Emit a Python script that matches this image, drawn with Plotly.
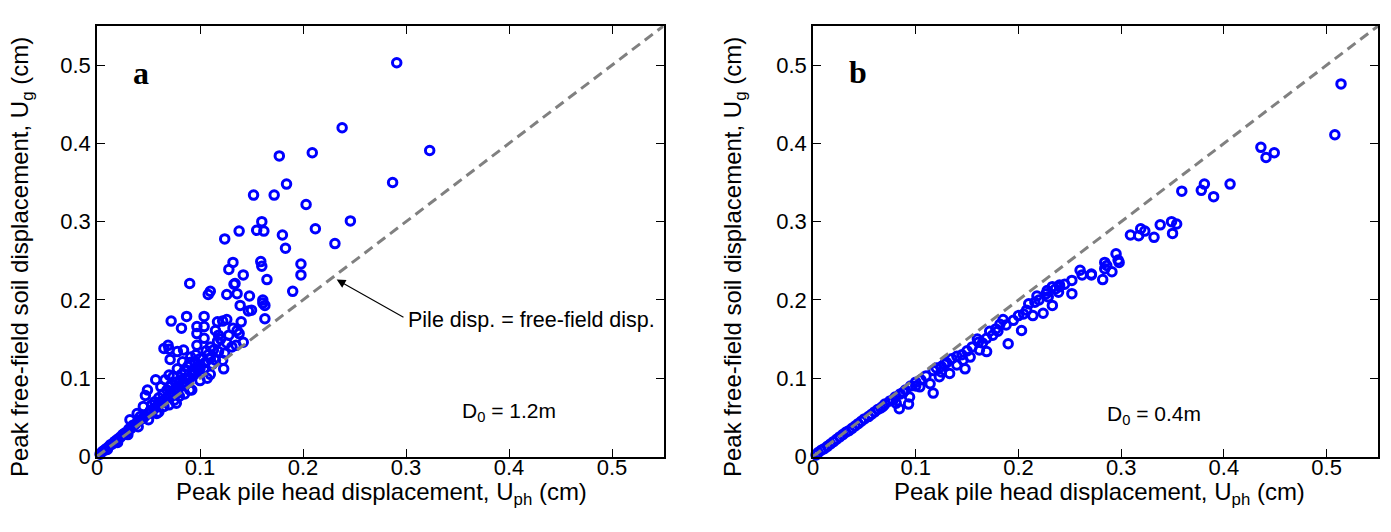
import plotly.graph_objects as go

# ---------------- data ----------------
# Panel a (D0 = 1.2 m): peak pile head displacement vs peak free-field displacement (cm)
a_uph = [0.291, 0.238, 0.323, 0.177, 0.209, 0.184, 0.152, 0.172, 0.287, 0.203,
         0.160, 0.155, 0.162, 0.138, 0.124, 0.180, 0.183, 0.212, 0.246, 0.231,
         0.198, 0.198, 0.190, 0.159, 0.160, 0.132, 0.128, 0.142, 0.165, 0.090,
         0.134, 0.110, 0.108, 0.126, 0.148, 0.161, 0.136, 0.133, 0.139, 0.161,
         0.163, 0.147, 0.150, 0.163, 0.072, 0.087, 0.082, 0.104, 0.097, 0.104,
         0.117, 0.122, 0.126, 0.115, 0.140, 0.132, 0.136, 0.138, 0.097, 0.104,
         0.117, 0.131, 0.135, 0.142, 0.065, 0.069, 0.070, 0.071, 0.078, 0.084,
         0.097, 0.113, 0.118, 0.115, 0.122, 0.123, 0.107, 0.091, 0.095, 0.100,
         0.088, 0.094, 0.104, 0.083, 0.078, 0.057, 0.049, 0.047, 0.070, 0.074,
         0.066, 0.062, 0.071, 0.081, 0.087, 0.092, 0.078, 0.077, 0.045, 0.039,
         0.032, 0.042, 0.052, 0.058, 0.065, 0.090, 0.085, 0.075, 0.110, 0.100,
         0.080, 0.070, 0.060, 0.050, 0.040, 0.030, 0.020, 0.010,
         0.003, 0.005, 0.007, 0.009, 0.011, 0.013, 0.015, 0.017, 0.019, 0.021,
         0.023, 0.025, 0.027, 0.029, 0.031, 0.033, 0.035, 0.037, 0.040, 0.042,
         0.045, 0.047, 0.050, 0.052, 0.055, 0.057, 0.060, 0.062, 0.065, 0.068,
         0.070, 0.073, 0.075, 0.078, 0.080, 0.083, 0.085, 0.088, 0.090, 0.093,
         0.095, 0.098, 0.100,
         0.105, 0.110, 0.112, 0.108, 0.100, 0.096, 0.090, 0.085, 0.082, 0.086,
         0.076, 0.072, 0.068, 0.064, 0.060, 0.056, 0.053, 0.120, 0.128, 0.126,
         0.118, 0.110, 0.106, 0.124]
a_ug = [0.503, 0.420, 0.391, 0.384, 0.388, 0.348, 0.334, 0.334, 0.350, 0.322,
        0.300, 0.289, 0.288, 0.288, 0.278, 0.283, 0.266, 0.291, 0.301, 0.272,
        0.246, 0.232, 0.211, 0.249, 0.243, 0.248, 0.239, 0.232, 0.226, 0.221,
        0.221, 0.211, 0.207, 0.207, 0.205, 0.200, 0.208, 0.220, 0.193, 0.196,
        0.193, 0.186, 0.187, 0.176, 0.173, 0.179, 0.164, 0.179, 0.166, 0.166,
        0.172, 0.173, 0.175, 0.161, 0.172, 0.164, 0.161, 0.157, 0.157, 0.151,
        0.147, 0.140, 0.142, 0.146, 0.138, 0.142, 0.137, 0.124, 0.134, 0.136,
        0.142, 0.136, 0.134, 0.123, 0.123, 0.112, 0.100, 0.127, 0.121, 0.117,
        0.115, 0.110, 0.112, 0.121, 0.112, 0.098, 0.085, 0.078, 0.104, 0.102,
        0.098, 0.089, 0.089, 0.098, 0.093, 0.085, 0.081, 0.068, 0.064, 0.055,
        0.047, 0.051, 0.059, 0.055, 0.064, 0.085, 0.080, 0.072, 0.105, 0.097,
        0.077, 0.066, 0.057, 0.047, 0.038, 0.028, 0.018, 0.009,
        0.003, 0.006, 0.008, 0.010, 0.012, 0.015, 0.016, 0.019, 0.021, 0.023,
        0.025, 0.028, 0.030, 0.031, 0.035, 0.036, 0.040, 0.041, 0.045, 0.047,
        0.049, 0.052, 0.055, 0.058, 0.060, 0.063, 0.066, 0.070, 0.071, 0.075,
        0.078, 0.080, 0.085, 0.087, 0.090, 0.093, 0.095, 0.098, 0.100, 0.104,
        0.107, 0.110, 0.112,
        0.120, 0.125, 0.118, 0.130, 0.125, 0.130, 0.120, 0.110, 0.105, 0.100,
        0.095, 0.092, 0.085, 0.080, 0.075, 0.070, 0.066, 0.150, 0.155, 0.145,
        0.155, 0.140, 0.135, 0.132]

# Panel b (D0 = 0.4 m)
b_uph = [0.514, 0.508, 0.436, 0.449, 0.441, 0.406, 0.359, 0.378, 0.381, 0.390,
         0.349, 0.354, 0.350, 0.338, 0.319, 0.323, 0.317, 0.309, 0.332, 0.295,
         0.284, 0.297, 0.298, 0.286, 0.284, 0.291, 0.282, 0.271, 0.260, 0.262,
         0.271, 0.252, 0.252, 0.240, 0.228, 0.240, 0.239, 0.233, 0.227, 0.229,
         0.233, 0.224, 0.216, 0.208, 0.214, 0.195, 0.203, 0.188, 0.182, 0.175,
         0.190, 0.169, 0.161, 0.162, 0.169, 0.153, 0.146, 0.148, 0.140, 0.133,
         0.123, 0.117, 0.114, 0.117, 0.104, 0.094, 0.093, 0.084, 0.081, 0.068,
         0.155, 0.150, 0.140, 0.135, 0.130, 0.125, 0.120, 0.110, 0.105, 0.100,
         0.100, 0.095, 0.090, 0.088, 0.085, 0.080, 0.078, 0.075, 0.070, 0.066,
         0.063, 0.060, 0.057, 0.054, 0.050, 0.047, 0.044, 0.041, 0.038, 0.035,
         0.032, 0.029, 0.026, 0.023, 0.020, 0.017, 0.014, 0.011, 0.008, 0.005,
         0.003, 0.125, 0.128, 0.145, 0.160, 0.165, 0.172, 0.180, 0.185, 0.178,
         0.200, 0.205, 0.210, 0.220, 0.218, 0.236, 0.245]
b_ug = [0.476, 0.411, 0.395, 0.388, 0.382, 0.348, 0.339, 0.340, 0.348, 0.332,
        0.300, 0.297, 0.285, 0.296, 0.291, 0.288, 0.282, 0.283, 0.280, 0.259,
        0.248, 0.251, 0.248, 0.244, 0.240, 0.236, 0.226, 0.233, 0.238, 0.232,
        0.232, 0.225, 0.208, 0.219, 0.212, 0.217, 0.210, 0.217, 0.208, 0.204,
        0.193, 0.183, 0.197, 0.187, 0.180, 0.174, 0.161, 0.168, 0.169, 0.155,
        0.144, 0.151, 0.146, 0.136, 0.134, 0.127, 0.123, 0.112, 0.117, 0.106,
        0.102, 0.110, 0.093, 0.081, 0.089, 0.076, 0.067, 0.061, 0.068, 0.064,
        0.140, 0.135, 0.128, 0.125, 0.120, 0.115, 0.113, 0.103, 0.098, 0.095,
        0.090, 0.090, 0.085, 0.082, 0.080, 0.076, 0.072, 0.071, 0.067, 0.062,
        0.060, 0.057, 0.054, 0.051, 0.048, 0.045, 0.042, 0.039, 0.036, 0.033,
        0.031, 0.028, 0.025, 0.022, 0.019, 0.016, 0.013, 0.010, 0.008, 0.005,
        0.002, 0.108, 0.118, 0.130, 0.150, 0.145, 0.160, 0.160, 0.175, 0.163,
        0.180, 0.182, 0.195, 0.200, 0.205, 0.214, 0.220]

axis_range = [0, 0.55]
tick_vals = [0, 0.1, 0.2, 0.3, 0.4, 0.5]
tick_text = ["0", "0.1", "0.2", "0.3", "0.4", "0.5"]
diag = [0, 0.55]

# ---------------- figure ----------------
W, H = 1391, 532
FONT = "Liberation Sans, Arial, Helvetica, sans-serif"
BLUE = "#0000ff"

fig = go.Figure()

for xs, ys, xa, ya in [(a_uph, a_ug, "x", "y"), (b_uph, b_ug, "x2", "y2")]:
    fig.add_trace(go.Scatter(
        x=xs, y=ys, mode="markers", xaxis=xa, yaxis=ya,
        marker=dict(symbol="circle-open", size=8.5, color=BLUE,
                    line=dict(width=3, color=BLUE)),
        showlegend=False, cliponaxis=False))
    fig.add_trace(go.Scatter(
        x=diag, y=diag, mode="lines", xaxis=xa, yaxis=ya,
        line=dict(color="#808080", width=3, dash="10px,6px"),
        showlegend=False))

axis_common = dict(
    range=axis_range, tickvals=tick_vals, ticktext=tick_text,
    showgrid=False, zeroline=False, showline=True, linecolor="black",
    linewidth=1.5, mirror="ticks", ticks="inside", ticklen=8,
    tickcolor="black", tickwidth=1,
    tickfont=dict(family=FONT, size=22, color="black"),
    automargin=False, fixedrange=True,
)

y0 = 1 - 456.5 / H
y1 = 1 - 26 / H

fig.update_layout(
    width=W, height=H,
    margin=dict(l=0, r=0, t=0, b=0),
    paper_bgcolor="white", plot_bgcolor="white",
    font=dict(family=FONT, color="black"),
    xaxis=dict(domain=[97 / W, 663.5 / W], anchor="y", ticklabelstandoff=-10, **axis_common),
    yaxis=dict(domain=[y0, y1], anchor="x", **axis_common),
    xaxis2=dict(domain=[813 / W, 1378 / W], anchor="y2", ticklabelstandoff=-10, **axis_common),
    yaxis2=dict(domain=[y0, y1], anchor="x2", **axis_common),
)

title_font = dict(family=FONT, size=24, color="black")
annos = []
# x titles
for cx in [381, 1099]:
    annos.append(dict(xref="paper", yref="paper", x=cx / W, y=1 - 476 / H,
                      text="Peak pile head displacement, U<sub>ph</sub> (cm)",
                      showarrow=False, xanchor="center", yanchor="top",
                      font=title_font))
# y titles
for cx in [22, 735]:
    annos.append(dict(xref="paper", yref="paper", x=cx / W, y=1 - 257 / H,
                      text="Peak free-field soil displacement, U<sub>g</sub> (cm)",
                      showarrow=False, textangle=-90, xanchor="center",
                      yanchor="middle", font=title_font))
# panel letters
annos.append(dict(xref="x", yref="y", x=0.0427, y=0.490, text="<b>a</b>",
                  showarrow=False, font=dict(family="Liberation Serif, Times New Roman, serif",
                                             size=32, color="black")))
annos.append(dict(xref="x2", yref="y2", x=0.0438, y=0.4917, text="<b>b</b>",
                  showarrow=False, font=dict(family="Liberation Serif, Times New Roman, serif",
                                             size=32, color="black")))
# arrow + label
annos.append(dict(xref="x", yref="y", x=0.2327, y=0.226, axref="x", ayref="y",
                  ax=0.299, ay=0.1767, text="", showarrow=True, arrowhead=2,
                  arrowsize=1.6, arrowwidth=1.1, arrowcolor="black"))
annos.append(dict(xref="x", yref="y", x=0.300, y=0.174, text="Pile disp. = free-field disp.",
                  showarrow=False, xanchor="left", yanchor="middle",
                  font=dict(family=FONT, size=21.5, color="black")))
# D0 labels
annos.append(dict(xref="x", yref="y", x=0.400, y=0.0568, text="D<sub>0</sub> = 1.2m",
                  showarrow=False, xanchor="center", yanchor="middle",
                  font=dict(family=FONT, size=21, color="black")))
annos.append(dict(xref="x2", yref="y2", x=0.332, y=0.053, text="D<sub>0</sub> = 0.4m",
                  showarrow=False, xanchor="center", yanchor="middle",
                  font=dict(family=FONT, size=21, color="black")))

fig.update_layout(annotations=annos)
fig.write_html("out.html")
